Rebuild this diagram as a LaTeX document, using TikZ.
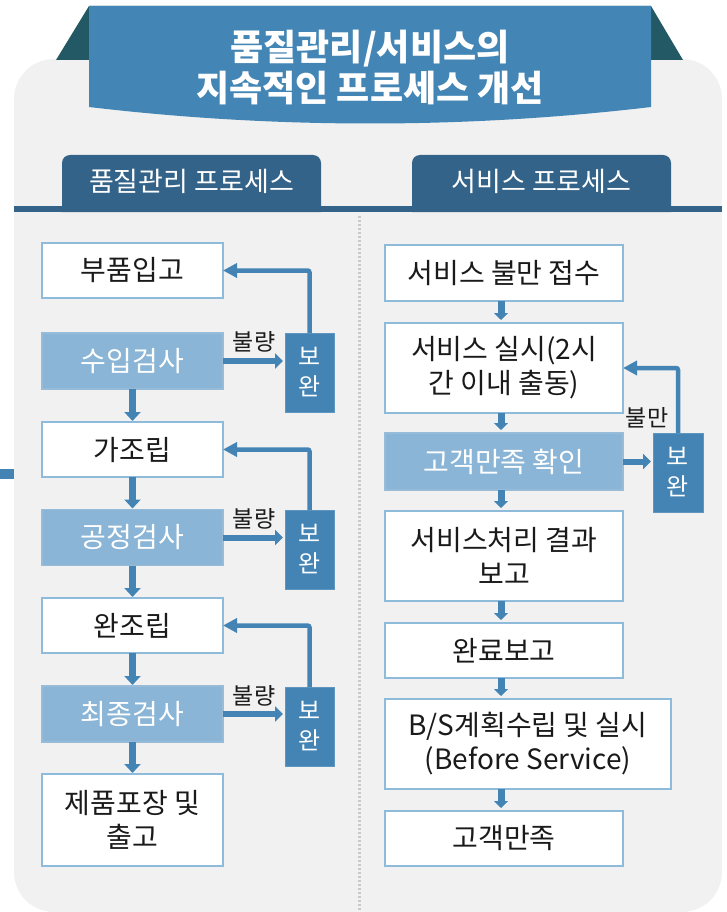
\documentclass[tikz,border=0pt]{standalone}
\usepackage{fontspec}
\setmainfont{Noto Sans CJK KR}
\usetikzlibrary{arrows.meta}
\definecolor{panelgray}{HTML}{F1F1F1}
\definecolor{darkteal}{HTML}{235865}
\definecolor{titleblue}{HTML}{4386B6}
\definecolor{tabblue}{HTML}{336388}
\definecolor{lightfill}{HTML}{8AB5D6}
\definecolor{bordblue}{HTML}{8FBBDB}
\definecolor{midblue}{HTML}{4384B4}
\definecolor{divgray}{HTML}{C9C9C9}
\definecolor{txt}{HTML}{1A1A1A}
\tikzset{
  boxbase/.style={inner sep=0pt, outer sep=0pt, align=center, line width=1.5pt,
    font=\fontsize{28pt}{34pt}\selectfont},
  wbox/.style={boxbase, draw=bordblue, fill=white, text=txt},
  ibox/.style={boxbase, draw=lightfill!90!white, fill=lightfill, text=white},
  fixbox/.style={inner sep=0pt, outer sep=0pt, align=center, fill=midblue, draw=midblue!85!white,
    line width=1pt, text=white, minimum width=49pt, minimum height=79pt,
    font=\fontsize{24pt}{30pt}\selectfont},
  lbl/.style={text=txt, inner sep=0pt, font=\fontsize{23pt}{26pt}\selectfont},
  downL/.style={midblue, line width=7pt, -{Triangle[length=9pt,width=16pt]}, shorten >=1pt},
  downR/.style={midblue, line width=7pt, -{Triangle[length=7pt,width=14pt]}, shorten >=3pt},
  sidearrow/.style={midblue, line width=6pt, -{Triangle[length=8pt,width=15pt]}, shorten >=2pt},
  backarrow/.style={midblue, line width=4.5pt, rounded corners=2pt, -{Triangle[length=14pt,width=14pt]}},
  tabtext/.style={text=white, inner sep=0pt, font=\fontsize{27pt}{30pt}\selectfont}
}
\begin{document}
\begin{tikzpicture}[x=1pt,y=-1pt]
\useasboundingbox (0,0) rectangle (727,912);
% panel
\fill[panelgray, rounded corners=40pt] (14,59) rectangle (722,912);
% title ribbon
\fill[darkteal] (56,60) -- (89,6) -- (651,6) -- (683,60) -- cycle;
\fill[titleblue] (89,6) -- (651,6) -- (651,107) .. controls (465,129) and (275,129) .. (89,107) -- cycle;
\node[text=white, align=center, inner sep=0pt, font=\fontsize{36pt}{41pt}\selectfont\bfseries] (title) at (370,67.5) {품질관리/서비스의\\지속적인 프로세스 개선};
% header line and tabs
\fill[tabblue] (14,206) rectangle (722,212);
\fill[tabblue, rounded corners=8pt] (62,212) -- (62,155) -- (321,155) -- (321,212);
\fill[tabblue, rounded corners=8pt] (412,212) -- (412,155) -- (671,155) -- (671,212);
\node[tabtext] (tabL) at (191.5,181) {품질관리 프로세스};
\node[tabtext] (tabR) at (541.5,181) {서비스 프로세스};
% divider
\draw[divgray, line width=3pt, dash pattern=on 2pt off 2pt] (359,216) -- (359,912);
% side mark
\fill[midblue] (0,469) rectangle (14,479);

% left column
\node[wbox, minimum width=181pt, minimum height=55pt] (L1) at (132.5,270.5) {부품입고};
\node[ibox, minimum width=181pt, minimum height=56pt] (L2) at (132.5,361) {수입검사};
\node[wbox, minimum width=181pt, minimum height=55pt] (L3) at (132.5,449.5) {가조립};
\node[ibox, minimum width=181pt, minimum height=56pt] (L4) at (132.5,537.5) {공정검사};
\node[wbox, minimum width=181pt, minimum height=55pt] (L5) at (132.5,625.5) {완조립};
\node[ibox, minimum width=181pt, minimum height=56pt] (L6) at (132.5,714) {최종검사};
\node[wbox, minimum width=181pt, minimum height=92pt] (L7) at (132.5,820) {제품포장 및\\출고};

\node[fixbox] (B1) at (309.5,372.5) {보\\완};
\node[fixbox] (B2) at (309.5,549.5) {보\\완};
\node[fixbox] (B3) at (309.5,726.5) {보\\완};

\draw[downL] (L2.south) -- (L3.north);
\draw[downL] (L3.south) -- (L4.north);
\draw[downL] (L4.south) -- (L5.north);
\draw[downL] (L5.south) -- (L6.north);
\draw[downL] (L6.south) -- (L7.north);

\draw[sidearrow] (L2.east) -- (L2.east -| B1.west);
\draw[sidearrow] (L4.east) -- (L4.east -| B2.west);
\draw[sidearrow] (L6.east) -- (L6.east -| B3.west);
\node[lbl] (q1) at (254,342) {불량};
\node[lbl] (q2) at (254,519) {불량};
\node[lbl] (q3) at (254,696) {불량};

\draw[backarrow] (B1.north) |- (L1.east);
\draw[backarrow] (B2.north) |- (L3.east);
\draw[backarrow] (B3.north) |- (L5.east);

% right column
\coordinate (rax) at (501,0);
\node[wbox, minimum width=238pt, minimum height=56pt] (R1) at (504,273) {서비스 불만 접수};
\node[wbox, minimum width=238pt, minimum height=90pt] (R2) at (504,368) {서비스 실시(2시\\간 이내 출동)};
\node[ibox, minimum width=238pt, minimum height=57pt] (R3) at (504,461.5) {고객만족 확인};
\node[wbox, minimum width=238pt, minimum height=90pt] (R4) at (504,556) {서비스처리 결과\\보고};
\node[wbox, minimum width=238pt, minimum height=55pt] (R5) at (504,650.5) {완료보고};
\node[wbox, minimum width=286pt, minimum height=90pt] (R6) at (528,744) {B/S계획수립 및 실시\\(Before Service)};
\node[wbox, minimum width=238pt, minimum height=55pt] (R7) at (504,838.5) {고객만족};

\node[fixbox, minimum width=50pt] (RB) at (678,472.5) {보\\완};

\draw[downR] (R1.south -| rax) -- (R2.north -| rax);
\draw[downR] (R2.south -| rax) -- (R3.north -| rax);
\draw[downR] (R3.south -| rax) -- (R4.north -| rax);
\draw[downR] (R4.south -| rax) -- (R5.north -| rax);
\draw[downR] (R5.south -| rax) -- (R6.north -| rax);
\draw[downR] (R6.south -| rax) -- (R7.north -| rax);

\draw[sidearrow] (R3.east) -- (R3.east -| RB.west);
\draw[backarrow] (RB.north) |- (R2.east);
\node[lbl] (q4) at (647,418) {불만};
\end{tikzpicture}
\end{document}
